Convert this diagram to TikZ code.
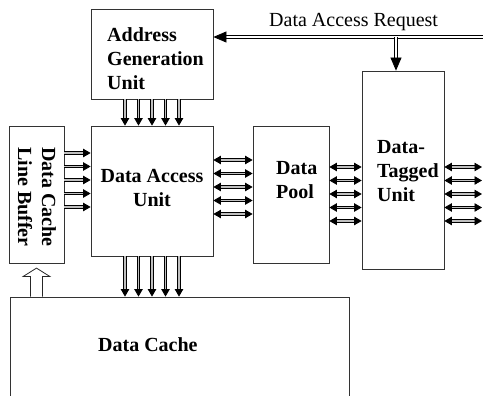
\documentclass[tikz,border=0pt]{standalone}
\usepackage{fontspec}
\setmainfont{Liberation Serif}
\usetikzlibrary{arrows.meta,calc}
% stacked lines of a label; the node's baseline is that of the first line
\newcommand\stacklines[2][l]{\begin{tabular}[t]{@{}#1@{}}#2\end{tabular}}
\begin{document}
\begin{tikzpicture}[
  x=1pt, y=-1pt,
  unit/.style={draw=black!80, line width=0.8pt, rectangle, inner sep=0pt},
  txt/.style={inner sep=0pt, font=\fontsize{20}{24}\selectfont\bfseries},
  plaintxt/.style={inner sep=0pt, font=\fontsize{20}{24}\selectfont},
  tipbus/.tip={Triangle[length=7.5pt,width=8.5pt]},
  bus/.style={line width=0.75pt, double=gray!50, double distance=1.6pt, -tipbus},
  bibus/.style={line width=0.75pt, double=gray!50, double distance=1.6pt, tipbus-tipbus},
  reqline/.style={line width=0.7pt, double=white, double distance=2.3pt},
  reqarrow/.style={reqline, -{Triangle[length=13pt,width=11pt]}},
  hollow/.style={draw=black!85, line width=0.8pt, fill=white}
]
\clip (0,0) rectangle (483,396);
\fill[white] (0,0) rectangle (483,396);

% functional blocks
\node[unit, minimum width=122pt, minimum height=90pt]  (agu)  at (152,54)    {};
\node[unit, minimum width=122pt, minimum height=130pt] (dau)  at (152,191)   {};
\node[unit, minimum width=55pt,  minimum height=137pt] (dclb) at (36.5,194.5) {};
\node[unit, minimum width=76pt,  minimum height=137pt] (dp)   at (291,194.5) {};
\node[unit, minimum width=82pt,  minimum height=198pt] (dtu)  at (403,170)   {};
\node[unit, minimum width=339pt, minimum height=130pt] (dc)   at (179.5,362) {};

% block names
\node[txt, anchor=base west] (agu-t) at (107,41.7) {\stacklines{Address\\Generation\\Unit}};
\node[txt, anchor=base] (dau-t) at (152,183) {\stacklines[c]{Data Access\\Unit}};
\node[txt, anchor=base west, rotate=-90] (dclb-t) at (42,147) {\stacklines{Data Cache\\Line Buffer}};
\node[txt, anchor=base west] (dp-t) at (276,175) {\stacklines{Data\\Pool}};
\node[txt, anchor=base west] (dtu-t) at (377,154) {\stacklines{Data-\\Tagged\\Unit}};
\node[txt, anchor=base west] (dc-t) at (98,352) {Data Cache};

% incoming request
\coordinate (req) at (484,37);
\coordinate (branch) at (396,37);
\node[plaintxt, anchor=base west] (req-t) at (269,27) {Data Access Request};
\draw[reqarrow] (req) -- (agu.east |- req);
\draw[reqarrow] (branch) -- (branch |- dtu.north);

% address lines and cache lines
\foreach \o in {-27,-13.5,0,13.5,27} {
  \draw[bus] ([xshift=\o pt]agu.south) -- ([xshift=\o pt]dau.north);
  \draw[bus] ([xshift=\o pt]dau.south) -- ([xshift=\o pt]dau.south |- dc.north);
}
% line buffer to access unit
\foreach \y in {153,166.5,180,193.5,207}
  \draw[bus] (dclb.east |- 0,\y) -- (dau.west |- 0,\y);
% access unit <-> data pool
\foreach \y in {160,173.5,187,200.5,214}
  \draw[bibus] (dau.east |- 0,\y) -- (dp.west |- 0,\y);
% data pool <-> tagged unit, tagged unit <-> outside
\foreach \y in {167,180.5,194,207.5,221} {
  \draw[bibus] (dp.east |- 0,\y) -- (dtu.west |- 0,\y);
  \coordinate (out) at (482,\y);
  \draw[bibus] (dtu.east |- 0,\y) -- (out);
}

% refill path from the cache into the line buffer
\coordinate (hb) at (dclb.south |- dc.north);
\draw[hollow] ([shift={(-6,0)}]hb) -- ++(0,-20) -- ++(-7.5,0)
  -- ([shift={(0,-28.5)}]hb) -- ([shift={(13.5,-20)}]hb) -- ++(-7.5,0)
  -- ([shift={(6,0)}]hb);
\end{tikzpicture}
\end{document}
